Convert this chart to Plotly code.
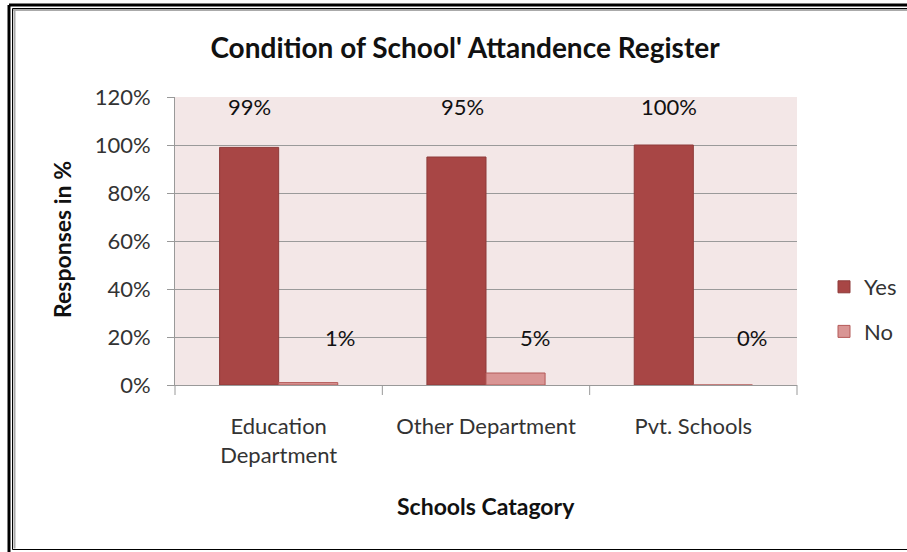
import plotly.graph_objects as go

categories = ["Education<br>Department", "Other Department", "Pvt. Schools"]
yes_values = [99, 95, 100]
no_values = [1, 5, 0]
yes_labels = ["99%", "95%", "100%"]
no_labels = ["1%", "5%", "0%"]
y_ticks = [0, 20, 40, 60, 80, 100, 120]
y_tick_labels = ["0%", "20%", "40%", "60%", "80%", "100%", "120%"]

FONT = "Lato, Open Sans, sans-serif"
W, H = 907, 552
L, R, T, B = 175, 110, 97, 167
PW, PH = W - L - R, H - T - B


def px(x):
    return (x - L) / PW


def py(y):
    return (H - B - y) / PH


fig = go.Figure()
fig.add_trace(go.Bar(x=categories, y=yes_values, name="Yes", legendgroup="yes",
                     marker=dict(color="#A84645", line=dict(color="#8E3B3A", width=1))))
fig.add_trace(go.Bar(x=categories, y=no_values, name="No", legendgroup="no",
                     marker=dict(color="#D99594", line=dict(color="#B45A59", width=1))))

yes_shift = [-29, -24, -24]
no_shift = [61, 49, 59]
annotations = []
for i, (yl, nl) in enumerate(zip(yes_labels, no_labels)):
    annotations.append(dict(x=i, y=116, xref="x", yref="y", text=yl, showarrow=False,
                            xshift=yes_shift[i], xanchor="center", yanchor="middle",
                            font=dict(size=22, color="#111", family=FONT)))
    annotations.append(dict(x=i, y=19.6, xref="x", yref="y", text=nl, showarrow=False,
                            xshift=no_shift[i], xanchor="center", yanchor="middle",
                            font=dict(size=22, color="#111", family=FONT)))
annotations.append(dict(x=px(62), y=py(240), xref="paper", yref="paper", text="<b>Responses in %</b>",
                        showarrow=False, textangle=-90, xanchor="center", yanchor="middle",
                        font=dict(size=23, color="#111", family=FONT)))
annotations.append(dict(x=px(486), y=py(506), xref="paper", yref="paper", text="<b>Schools Catagory</b>",
                        showarrow=False, xanchor="center", yanchor="middle",
                        font=dict(size=23, color="#111", family=FONT)))

shapes = [
    dict(type="line", xref="paper", yref="paper", x0=px(9), x1=px(9), y0=py(5), y1=py(560),
         line=dict(color="black", width=3)),
    dict(type="line", xref="paper", yref="paper", x0=px(9), x1=px(920), y0=py(5), y1=py(5),
         line=dict(color="black", width=3)),
    dict(type="line", xref="paper", yref="paper", x0=px(12.5), x1=px(12.5), y0=py(8.5), y1=py(549.5),
         line=dict(color="black", width=1)),
    dict(type="line", xref="paper", yref="paper", x0=px(12.5), x1=px(920), y0=py(8.5), y1=py(8.5),
         line=dict(color="black", width=1)),
    dict(type="line", xref="paper", yref="paper", x0=px(12.5), x1=px(920), y0=py(549.5), y1=py(549.5),
         line=dict(color="black", width=1)),
    dict(type="line", xref="paper", yref="paper", x0=px(14.5), x1=px(14.5), y0=py(9), y1=py(548.5),
         line=dict(color="#AAAAAA", width=2)),
    dict(type="line", xref="paper", yref="paper", x0=px(13), x1=px(920), y0=py(10), y1=py(10),
         line=dict(color="#AAAAAA", width=2)),
]
for k in range(4):
    shapes.append(dict(type="line", xref="paper", yref="paper",
                       x0=k / 3, x1=k / 3, y0=0, y1=-10 / PH,
                       line=dict(color="#999", width=1)))

fig.update_layout(
    width=W, height=H,
    margin=dict(l=L, r=R, t=T, b=B, autoexpand=False),
    paper_bgcolor="white",
    plot_bgcolor="#F3E7E7",
    barmode="group",
    bargap=0.43,
    bargroupgap=0,
    title=dict(text="<b>Condition of School' Attandence Register</b>",
               x=465 / W, xanchor="center", y=1 - 48 / H, yanchor="middle",
               font=dict(size=28, color="#111", family=FONT)),
    font=dict(family=FONT, size=22, color="#333"),
    legend=dict(x=px(824), y=py(266), xanchor="left", yanchor="top",
                font=dict(size=22, color="#333", family=FONT),
                tracegroupgap=13, itemwidth=30, bgcolor="rgba(0,0,0,0)"),
    xaxis=dict(showgrid=False, showline=True, linecolor="#999", linewidth=1,
               ticks="", tickfont=dict(size=22, color="#333"), ticklabelstandoff=22),
    yaxis=dict(range=[0, 120], tickvals=y_ticks, ticktext=y_tick_labels,
               showgrid=True, gridcolor="#9A9A9A", gridwidth=1,
               showline=True, linecolor="#999", linewidth=1,
               ticks="outside", ticklen=7, tickcolor="#999",
               tickfont=dict(size=22, color="#333"), ticklabelstandoff=12,
               zeroline=False),
    annotations=annotations,
    shapes=shapes,
)

fig.write_html("out.html", config={"displayModeBar": False},
               post_script="document.body.style.margin='0';document.body.style.padding='0';")
